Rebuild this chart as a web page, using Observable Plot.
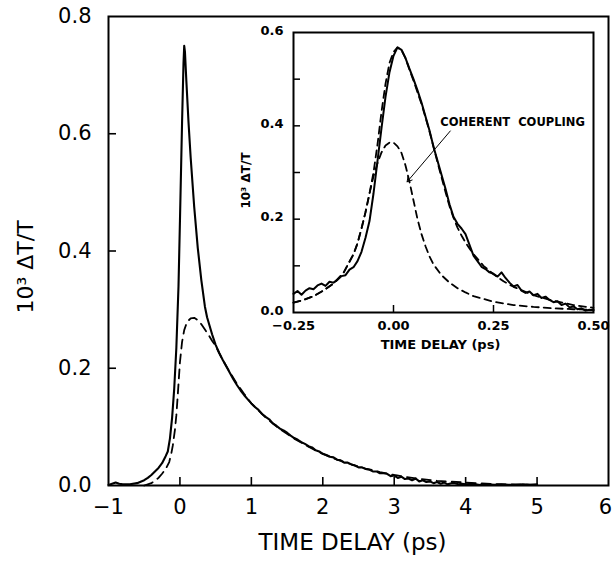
<!DOCTYPE html>
<html><head><meta charset="utf-8">
<script src="https://cdn.jsdelivr.net/npm/d3@7"></script>
<script src="https://cdn.jsdelivr.net/npm/@observablehq/plot@0.6"></script>
<style>
body{margin:0;background:#fff;}
#wrap{position:relative;width:613px;height:561px;background:#fff;}
#wrap svg{position:absolute;left:0;top:0;}
</style></head><body><div id="wrap"></div>
<script>
// ---------- main panel data ----------
const mainSolidT = [-1.0,-0.95,-0.9,-0.85,-0.8,-0.7,-0.6,-0.5,-0.45,-0.4,-0.35,-0.3,-0.25,-0.2,-0.17,-0.14,-0.11,-0.08,-0.05,-0.02,0.0,0.03,0.05,0.06,0.07,0.09,0.12,0.15,0.2,0.25,0.3,0.35,0.38,0.45,0.5,0.55,0.6,0.65,0.7,0.75,0.8,0.85,0.9,0.95,1.0,1.05,1.1,1.15,1.2,1.25,1.3,1.35,1.4,1.45,1.5,1.55,1.6,1.65,1.7,1.75,1.8,1.85,1.9,1.95,2.0,2.05,2.1,2.15,2.2,2.25,2.3,2.35,2.4,2.45,2.5,2.55,2.6,2.65,2.7,2.75,2.8,2.85,2.9,2.95,3.0,3.05,3.1,3.15,3.2,3.25,3.3,3.35,3.4,3.45,3.5,3.55,3.6,3.65,3.7,3.75,3.8,3.85,3.9,3.95,4.0,4.1,4.2,4.3,4.4,4.5,4.6,4.7,4.8,4.9,5.0];
const mainSolidV = [0.001,0.003,0.005,0.003,0.002,0.002,0.004,0.009,0.013,0.018,0.024,0.03,0.038,0.05,0.058,0.08,0.115,0.165,0.235,0.34,0.45,0.62,0.72,0.75,0.74,0.69,0.62,0.56,0.475,0.405,0.35,0.305,0.287,0.258,0.24,0.226,0.214,0.203,0.192,0.181,0.171,0.162,0.154,0.147,0.14,0.134,0.129,0.122,0.117,0.113,0.106,0.102,0.097,0.094,0.09,0.085,0.081,0.078,0.074,0.071,0.067,0.065,0.06,0.058,0.054,0.052,0.049,0.048,0.044,0.043,0.039,0.039,0.036,0.034,0.031,0.031,0.028,0.027,0.024,0.024,0.021,0.021,0.02,0.016,0.017,0.013,0.015,0.011,0.012,0.009,0.012,0.007,0.009,0.006,0.007,0.004,0.006,0.003,0.005,0.002,0.004,0.004,0.002,0.003,0.002,0.003,0.001,0.002,0.001,0.002,0.001,0.001,0.002,0.001,0.002];
const mainFitT = [-0.5,-0.45,-0.4,-0.35,-0.3,-0.25,-0.2,-0.15,-0.12,-0.1,-0.07,-0.05,-0.03,0.0,0.03,0.06,0.1,0.15,0.2,0.25,0.3,0.35,0.4,0.45,0.5,0.6,0.7,0.8,0.9,1.0,1.2,1.4,1.6,1.8,2.0,2.2,2.4,2.6,2.8,3.0,3.3,3.6,4.0,4.5,5.0];
const mainFitV = [0.0,0.002,0.004,0.008,0.013,0.02,0.028,0.04,0.055,0.068,0.095,0.12,0.155,0.21,0.245,0.265,0.279,0.285,0.286,0.282,0.275,0.266,0.257,0.247,0.238,0.214,0.193,0.173,0.156,0.14,0.116,0.096,0.08,0.066,0.054,0.044,0.036,0.029,0.023,0.018,0.012,0.008,0.005,0.002,0.001];
const mainXTicks = [0,1,2,3,4,5];
const mainXLabels = [-1,0,1,2,3,4,5];
const mainXLabelsEdge = [6];
const mainYTicks = [0.2,0.4,0.6];
const mainYLabels = [0,0.2,0.4,0.6,0.8];
const mainXTitle = "TIME DELAY (ps)";
const mainYTitle = "10³ ΔT/T";

// ---------- inset data ----------
const insetSolidT = [-0.25,-0.24,-0.23,-0.22,-0.21,-0.2,-0.19,-0.18,-0.17,-0.16,-0.15,-0.14,-0.13,-0.12,-0.11,-0.1,-0.09,-0.08,-0.07,-0.06,-0.05,-0.04,-0.03,-0.02,-0.01,0.0,0.01,0.02,0.03,0.04,0.05,0.06,0.07,0.08,0.09,0.1,0.11,0.12,0.13,0.14,0.15,0.16,0.17,0.18,0.19,0.2,0.21,0.22,0.23,0.24,0.25,0.26,0.27,0.28,0.29,0.3,0.31,0.32,0.33,0.34,0.35,0.36,0.37,0.38,0.39,0.4,0.41,0.42,0.43,0.44,0.45,0.46,0.47,0.48,0.49,0.5];
const insetSolidV = [0.04,0.046,0.038,0.047,0.052,0.05,0.058,0.062,0.057,0.066,0.064,0.07,0.078,0.08,0.092,0.097,0.11,0.13,0.16,0.196,0.255,0.325,0.395,0.462,0.515,0.55,0.568,0.563,0.545,0.522,0.5,0.476,0.45,0.42,0.39,0.355,0.325,0.295,0.265,0.232,0.205,0.19,0.18,0.168,0.145,0.122,0.11,0.098,0.093,0.086,0.083,0.077,0.086,0.074,0.064,0.056,0.059,0.047,0.042,0.045,0.037,0.04,0.031,0.034,0.027,0.022,0.024,0.016,0.019,0.011,0.013,0.007,0.009,0.004,0.006,0.005];
const insetFitT = [-0.25,-0.225,-0.2,-0.175,-0.15,-0.125,-0.1,-0.09,-0.08,-0.07,-0.06,-0.05,-0.04,-0.03,-0.02,-0.01,0.0,0.01,0.02,0.03,0.04,0.05,0.06,0.07,0.08,0.09,0.1,0.11,0.12,0.13,0.14,0.15,0.16,0.17,0.18,0.19,0.2,0.225,0.25,0.275,0.3,0.35,0.4,0.45,0.5];
const insetFitV = [0.021,0.027,0.035,0.047,0.062,0.085,0.125,0.148,0.18,0.215,0.255,0.3,0.36,0.43,0.49,0.535,0.558,0.568,0.562,0.545,0.52,0.497,0.472,0.447,0.418,0.388,0.355,0.322,0.29,0.258,0.228,0.203,0.182,0.165,0.15,0.137,0.125,0.1,0.082,0.067,0.055,0.037,0.025,0.016,0.01];
const insetCohT = [-0.25,-0.225,-0.2,-0.175,-0.15,-0.125,-0.1,-0.09,-0.08,-0.07,-0.06,-0.05,-0.04,-0.03,-0.02,-0.01,0.0,0.01,0.02,0.03,0.04,0.05,0.06,0.07,0.08,0.09,0.1,0.12,0.14,0.16,0.18,0.2,0.25,0.3,0.35,0.4,0.45,0.5];
const insetCohV = [0.021,0.027,0.035,0.047,0.062,0.085,0.125,0.148,0.18,0.215,0.255,0.292,0.32,0.343,0.358,0.364,0.364,0.356,0.342,0.315,0.28,0.24,0.2,0.168,0.142,0.12,0.103,0.08,0.064,0.052,0.043,0.035,0.023,0.016,0.012,0.009,0.007,0.006];
const insetXTicks = [0, 0.25];
const insetXLabels = [-0.25, 0, 0.25, 0.5];
const insetYTicks = [0.1,0.2,0.3,0.4,0.5];
const insetYLabels = [0,0.2,0.4,0.6];
const insetXTitle = "TIME DELAY (ps)";
const insetYTitle = "10³ ΔT/T";
const annotation = {text: "COHERENT  COUPLING", x: 0.117, y: 0.407};
const annotationArrow = {x1: 0.142, y1: 0.389, x2: 0.034, y2: 0.28};

const zipTV = (T, V) => T.map((t, i) => ({t, v: V[i]}));
const mainSolid = zipTV(mainSolidT, mainSolidV);
const mainFit = zipTV(mainFitT, mainFitV);
const insetSolid = zipTV(insetSolidT, insetSolidV);
const insetFit = zipTV(insetFitT, insetFitV);
const insetCoh = zipTV(insetCohT, insetCohV);

// inward tick marks: rules inset from the opposite side so only a short stub remains
const ticksX = (vals, frameH, len, sw) => Plot.ruleX(vals, {x: d => d, insetTop: frameH - len, strokeWidth: sw});
const ticksY = (vals, frameW, len, sw) => Plot.ruleY(vals, {y: d => d, insetRight: frameW - len, strokeWidth: sw});

const MW = 613 - 108 - 5, MH = 561 - 16 - 76;
const mainXLabelOpts = {tickSize: 0, tickPadding: 14, fontSize: 21, label: null, tickFormat: d3.format("d"), style: "letter-spacing:1px"};
const main = Plot.plot({
  width: 613, height: 561,
  marginLeft: 108, marginRight: 5, marginTop: 16, marginBottom: 76,
  x: {domain: [-1, 6]},
  y: {domain: [0, 0.8]},
  style: {fontFamily: "DejaVu Sans", background: "transparent", color: "#000"},
  marks: [
    ticksX(mainXTicks, MH, 8, 1.6),
    ticksY(mainYTicks, MW, 8, 1.6),
    Plot.axisX(mainXLabels, mainXLabelOpts),
    Plot.axisX(mainXLabelsEdge, {...mainXLabelOpts, dx: -3}),
    Plot.axisY(mainYLabels, {tickSize: 0, tickPadding: 17, fontSize: 21, label: null, tickFormat: d3.format(".1f"), style: "letter-spacing:1.5px"}),
    Plot.text([mainXTitle], {frameAnchor: "bottom", textAnchor: "middle", dx: -6, dy: 64, fontSize: 23, text: d => d, style: "letter-spacing:2px"}),
    Plot.text([mainYTitle], {frameAnchor: "left", textAnchor: "middle", dx: -83, dy: 16, rotate: -90, fontSize: 22, text: d => d, style: "letter-spacing:3px"}),
    Plot.line(mainFit, {x: "t", y: "v", strokeWidth: 1.8, strokeDasharray: "9,6"}),
    Plot.line(mainSolid, {x: "t", y: "v", strokeWidth: 2.1}),
    Plot.frame({strokeWidth: 2})
  ]
});

const IW = 613 - 293 - 20, IH = 561 - 32 - 249;
const inset = Plot.plot({
  width: 613, height: 561,
  marginLeft: 293, marginRight: 20, marginTop: 32, marginBottom: 249,
  x: {domain: [-0.25, 0.5]},
  y: {domain: [0, 0.6]},
  style: {fontFamily: "DejaVu Sans", fontWeight: "bold", background: "transparent", color: "#000"},
  marks: [
    ticksX(insetXTicks, IH, 7, 1.5),
    ticksY(insetYTicks, IW, 7, 1.5),
    Plot.axisX(insetXLabels, {tickSize: 0, tickPadding: 8, fontSize: 13, label: null, tickFormat: d3.format(".2f")}),
    Plot.axisY(insetYLabels, {tickSize: 0, tickPadding: 10, dy: -2, fontSize: 13, label: null, tickFormat: d3.format(".1f")}),
    Plot.text([insetXTitle], {frameAnchor: "bottom", textAnchor: "middle", dx: -3, dy: 36, fontSize: 13, text: d => d, style: "letter-spacing:1px"}),
    Plot.text([insetYTitle], {frameAnchor: "left", textAnchor: "middle", dx: -47, dy: 8, rotate: -90, fontSize: 12, text: d => d, style: "letter-spacing:1px"}),
    Plot.line(insetCoh, {x: "t", y: "v", strokeWidth: 1.8, strokeDasharray: "7,5"}),
    Plot.line(insetFit, {x: "t", y: "v", strokeWidth: 1.8, strokeDasharray: "7,5"}),
    Plot.line(insetSolid, {x: "t", y: "v", strokeWidth: 2}),
    Plot.text([annotation], {x: "x", y: "y", text: "text", textAnchor: "start", fontSize: 11.5}),
    Plot.arrow([annotationArrow], {x1: "x1", y1: "y1", x2: "x2", y2: "y2", strokeWidth: 1, headLength: 8}),
    Plot.frame({strokeWidth: 2})
  ]
});

const wrap = document.getElementById("wrap");
wrap.appendChild(main);
wrap.appendChild(inset);
</script>
</body></html>
